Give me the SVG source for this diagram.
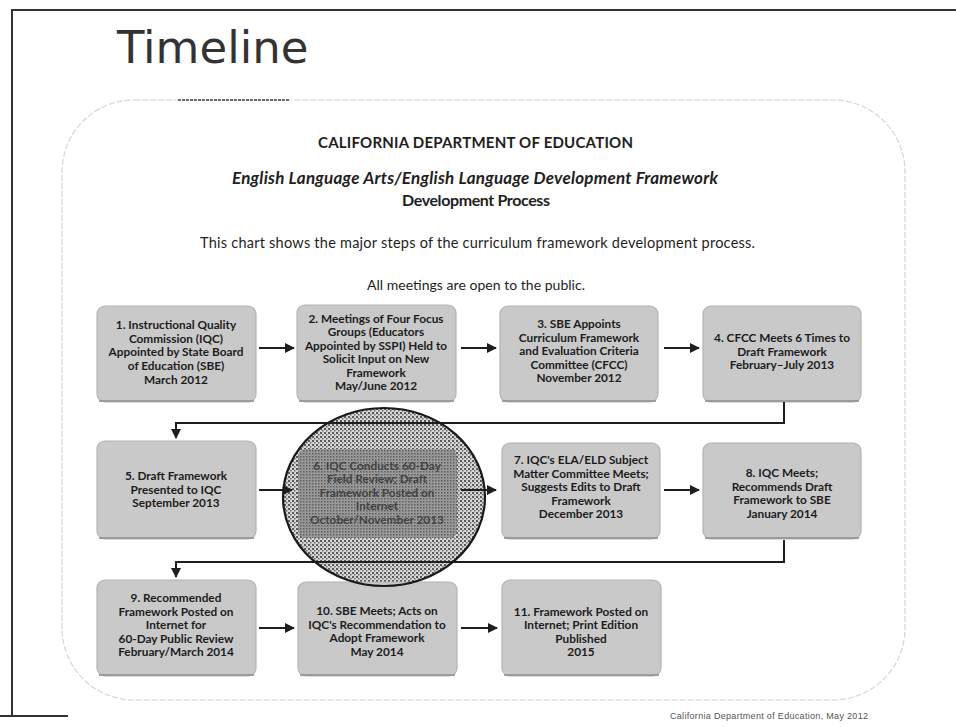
<svg xmlns="http://www.w3.org/2000/svg" width="956" height="727" viewBox="0 0 956 727">
  <style>
    .title { font-family: "DejaVu Sans", sans-serif; font-size: 45px; fill: #333333; }
    .hdr { font-family: Lato, "Liberation Sans", sans-serif; fill: #1e1e1e; text-anchor: middle; }
    .box { fill: #c9c9c9; stroke: #b4b4b4; stroke-width: 1.2; }
    .shade { fill: none; stroke: #8d8d8d; stroke-width: 1.5; }
    .lbl { font-family: Lato, "Liberation Sans", sans-serif; font-size: 11.8px; font-weight: bold; fill: #1c1c1c; text-anchor: middle; }
    .lbl6 { font-family: Lato, "Liberation Sans", sans-serif; font-size: 11.8px; font-weight: bold; fill: #3c3c3c; text-anchor: middle; }
    .conn { fill: none; stroke: #1e1e1e; stroke-width: 2; }
    .frame { fill: none; stroke: #333; stroke-width: 2; }
    .foot { font-family: "Liberation Sans", sans-serif; font-size: 9px; fill: #555; }
  </style>
  <defs>
    <marker id="arrow" viewBox="0 0 10 10" refX="9" refY="5" markerWidth="5" markerHeight="5" orient="auto" markerUnits="strokeWidth">
      <path d="M0,0 L10,5 L0,10 Z" fill="#1e1e1e"/>
    </marker>
    <!-- light screen used around the highlighted step -->
    <pattern id="dotsLight" patternUnits="userSpaceOnUse" width="4" height="4">
      <rect width="4" height="4" fill="#d6d6d6"/>
      <rect x="0" y="0" width="2" height="2" fill="#5a5a5a"/>
      <rect x="2" y="2" width="1.5" height="1.5" fill="#6a6a6a"/>
    </pattern>
    <!-- darker screen laid over the highlighted step box -->
    <pattern id="dotsDark" patternUnits="userSpaceOnUse" width="3" height="3">
      <rect x="0" y="0" width="1.5" height="1.5" fill="#4a4a4a" fill-opacity="0.8"/>
      <rect x="1.5" y="1.5" width="1" height="1" fill="#6a6a6a" fill-opacity="0.6"/>
    </pattern>
  </defs>

  <rect width="956" height="727" fill="#ffffff"/>

  <!-- slide frame -->
  <path class="frame" d="M12,716 V10 H956"/>
  <line x1="0" y1="716" x2="68" y2="716" stroke="#333" stroke-width="2"/>

  <!-- slide title -->
  <text class="title" x="117" y="63">Timeline</text>

  <!-- rounded page outline -->
  <rect x="62" y="100" width="843" height="600" rx="72" ry="72" fill="none" stroke="#d6d6d6" stroke-width="1.2" stroke-dasharray="6 2"/>
  <line x1="178" y1="100" x2="290" y2="100" stroke="#444" stroke-width="1.5" stroke-dasharray="3 1"/>

  <!-- header texts -->
  <g id="header">
    <text class="hdr" x="475.5" y="148" font-size="15" font-weight="bold" textLength="315">CALIFORNIA DEPARTMENT OF EDUCATION</text>
    <text class="hdr" x="475" y="184" font-size="17" font-weight="bold" font-style="italic" textLength="486">English Language Arts/English Language Development Framework</text>
    <text class="hdr" x="476" y="206" font-size="16" font-weight="bold" textLength="148">Development Process</text>
    <text class="hdr" x="477.5" y="248" font-size="14.5" textLength="555">This chart shows the major steps of the curriculum framework development process.</text>
    <text class="hdr" x="476" y="290" font-size="14" textLength="218">All meetings are open to the public.</text>
  </g>

  <!-- step 6 highlight -->
  <g id="highlight">
    <ellipse cx="384" cy="497" rx="101" ry="89" fill="url(#dotsLight)"/>
  </g>

  <!-- step boxes -->
  <g id="step1">
    <rect class="box" x="97" y="306" width="159" height="96" rx="8"/>
    <path class="shade" d="M99,401 H254"/>
    <text class="lbl" x="176"><tspan x="176" y="329">1. Instructional Quality</tspan><tspan x="176" y="342.7">Commission (IQC)</tspan><tspan x="176" y="356.4">Appointed by State Board</tspan><tspan x="176" y="370.1">of Education (SBE)</tspan><tspan x="176" y="383.8">March 2012</tspan></text>
  </g>
  <g id="step2">
    <rect class="box" x="297" y="305" width="159" height="97" rx="8"/>
    <path class="shade" d="M299,401 H454"/>
    <text class="lbl" x="376"><tspan x="376" y="322.5">2. Meetings of Four Focus</tspan><tspan x="376" y="336">Groups (Educators</tspan><tspan x="376" y="349.5">Appointed by SSPI) Held to</tspan><tspan x="376" y="363">Solicit Input on New</tspan><tspan x="376" y="376.5">Framework</tspan><tspan x="376" y="390">May/June 2012</tspan></text>
  </g>
  <g id="step3">
    <rect class="box" x="500" y="306" width="158" height="96" rx="8"/>
    <path class="shade" d="M502,401 H656"/>
    <text class="lbl" x="579"><tspan x="579" y="328">3. SBE Appoints</tspan><tspan x="579" y="341.5">Curriculum Framework</tspan><tspan x="579" y="355">and Evaluation Criteria</tspan><tspan x="579" y="368.5">Committee (CFCC)</tspan><tspan x="579" y="382">November 2012</tspan></text>
  </g>
  <g id="step4">
    <rect class="box" x="703" y="306" width="158" height="96" rx="8"/>
    <path class="shade" d="M705,401 H859"/>
    <text class="lbl" x="782"><tspan x="782" y="342">4. CFCC Meets 6 Times to</tspan><tspan x="782" y="355.5">Draft Framework</tspan><tspan x="782" y="369">February–July 2013</tspan></text>
  </g>

  <g id="step5">
    <rect class="box" x="97" y="441" width="159" height="98" rx="8"/>
    <path class="shade" d="M99,538 H254"/>
    <text class="lbl" x="176"><tspan x="176" y="480">5. Draft Framework</tspan><tspan x="176" y="493.5">Presented to IQC</tspan><tspan x="176" y="507">September 2013</tspan></text>
  </g>
  <g id="step6">
    <rect x="298" y="449" width="159" height="89" rx="8" fill="#9e9e9e"/>
    <text class="lbl6" x="377"><tspan x="377" y="469.5">6. IQC Conducts 60-Day</tspan><tspan x="377" y="483">Field Review; Draft</tspan><tspan x="377" y="496.5">Framework Posted on</tspan><tspan x="377" y="510">Internet</tspan><tspan x="377" y="523.5">October/November 2013</tspan></text>
    <rect x="298" y="449" width="159" height="89" rx="8" fill="url(#dotsDark)"/>
  </g>
  <g id="step7">
    <rect class="box" x="502" y="443" width="158" height="96" rx="8"/>
    <path class="shade" d="M504,538 H658"/>
    <text class="lbl" x="581"><tspan x="581" y="464">7. IQC's ELA/ELD Subject</tspan><tspan x="581" y="477.5">Matter Committee Meets;</tspan><tspan x="581" y="491">Suggests Edits to Draft</tspan><tspan x="581" y="504.5">Framework</tspan><tspan x="581" y="518">December 2013</tspan></text>
  </g>
  <g id="step8">
    <rect class="box" x="703" y="443" width="158" height="96" rx="8"/>
    <path class="shade" d="M705,538 H859"/>
    <text class="lbl" x="782"><tspan x="782" y="477">8. IQC Meets;</tspan><tspan x="782" y="490.5">Recommends Draft</tspan><tspan x="782" y="504">Framework to SBE</tspan><tspan x="782" y="517.5">January 2014</tspan></text>
  </g>

  <g id="step9">
    <rect class="box" x="97" y="580" width="159" height="96" rx="8"/>
    <path class="shade" d="M99,675 H254"/>
    <text class="lbl" x="176"><tspan x="176" y="602">9. Recommended</tspan><tspan x="176" y="615.5">Framework Posted on</tspan><tspan x="176" y="629">Internet for</tspan><tspan x="176" y="642.5">60-Day Public Review</tspan><tspan x="176" y="656">February/March 2014</tspan></text>
  </g>
  <g id="step10">
    <rect class="box" x="298" y="582" width="159" height="94" rx="8"/>
    <path class="shade" d="M300,675 H455"/>
    <text class="lbl" x="377"><tspan x="377" y="615">10. SBE Meets; Acts on</tspan><tspan x="377" y="628.5">IQC's Recommendation to</tspan><tspan x="377" y="642">Adopt Framework</tspan><tspan x="377" y="655.5">May 2014</tspan></text>
  </g>
  <g id="step11">
    <rect class="box" x="502" y="580" width="159" height="96" rx="8"/>
    <path class="shade" d="M504,675 H659"/>
    <text class="lbl" x="581"><tspan x="581" y="615.5">11. Framework Posted on</tspan><tspan x="581" y="629">Internet; Print Edition</tspan><tspan x="581" y="642.5">Published</tspan><tspan x="581" y="656">2015</tspan></text>
  </g>

  <!-- connectors -->
  <g id="connectors">
    <line class="conn" x1="259" y1="348" x2="294" y2="348" marker-end="url(#arrow)"/>
    <line class="conn" x1="461" y1="348" x2="496" y2="348" marker-end="url(#arrow)"/>
    <line class="conn" x1="664" y1="348" x2="699" y2="348" marker-end="url(#arrow)"/>
    <path class="conn" d="M784,402 V423 H176 V438" marker-end="url(#arrow)"/>
    <line class="conn" x1="259" y1="490" x2="292" y2="490" marker-end="url(#arrow)"/>
    <line class="conn" x1="461" y1="490" x2="496" y2="490" marker-end="url(#arrow)"/>
    <line class="conn" x1="664" y1="490" x2="699" y2="490" marker-end="url(#arrow)"/>
    <path class="conn" d="M784,540 V562 H176 V577" marker-end="url(#arrow)"/>
    <line class="conn" x1="259" y1="628" x2="294" y2="628" marker-end="url(#arrow)"/>
    <line class="conn" x1="461" y1="628" x2="497" y2="628" marker-end="url(#arrow)"/>
  </g>

  <!-- highlight outline drawn over the step -->
  <ellipse cx="384" cy="497" rx="101" ry="89" fill="none" stroke="#1a1a1a" stroke-width="2.2"/>

  <!-- footer -->
  <text class="foot" x="670" y="719" textLength="198">California Department of Education, May 2012</text>
</svg>
